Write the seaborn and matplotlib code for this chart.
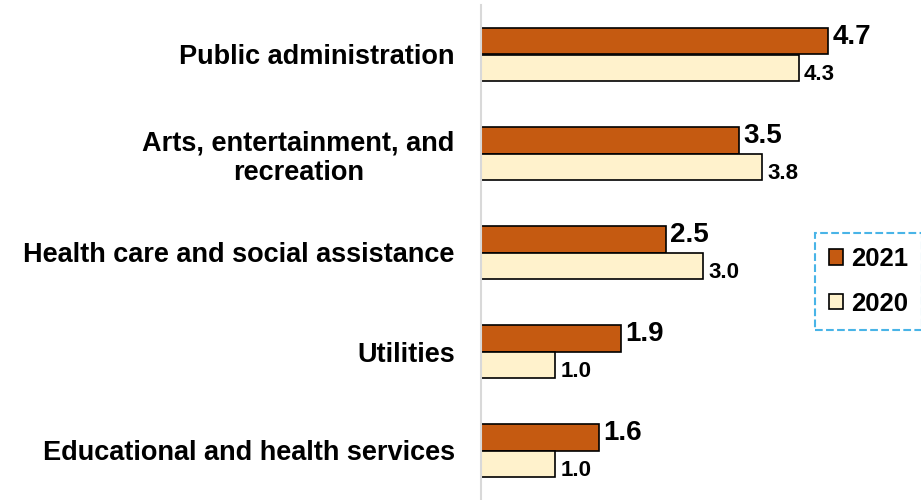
import pandas as pd
import matplotlib.pyplot as plt
import seaborn as sns
from matplotlib.patches import Patch
from matplotlib import font_manager

categories = ["Public administration",
              "Arts, entertainment, and\nrecreation",
              "Health care and social assistance",
              "Utilities",
              "Educational and health services"]
vals_2021 = [4.7, 3.5, 2.5, 1.9, 1.6]
vals_2020 = [4.3, 3.8, 3.0, 1.0, 1.0]
years = ["2021", "2020"]
colors = ["#C55A11", "#FFF2CC"]

df = pd.DataFrame({
    "industry": categories * 2,
    "value": vals_2021 + vals_2020,
    "year": [years[0]] * 5 + [years[1]] * 5,
})

sns.set_style("white")
plt.rcParams["font.family"] = ["Liberation Sans", "DejaVu Sans"]
plt.rcParams["text.color"] = "black"
plt.rcParams["ytick.color"] = "black"

# narrow face for the small 2020 labels, if one is installed
names = {f.name for f in font_manager.fontManager.ttflist}
narrow = next((n for n in ["Liberation Sans Narrow", "DejaVu Sans Condensed"] if n in names),
              "Liberation Sans")

fig = plt.figure(figsize=(9.21, 5), dpi=100)
ax = fig.add_axes([0.5223, 0.0, 0.465, 0.99])
sns.barplot(data=df, x="value", y="industry", hue="year", orient="h",
            palette=colors, saturation=1, width=0.535, edgecolor="black",
            linewidth=1.2, legend=False, ax=ax)

ax.set_xlim(0, 5.8)
ax.set_ylim(4.5, -0.5)
ax.set_xlabel("")
ax.set_ylabel("")
ax.set_xticks([])
ax.tick_params(axis="y", length=0, pad=19)
for lab in ax.get_yticklabels():
    lab.set_fontsize(19.5)
    lab.set_fontweight("bold")
    lab.set_multialignment("center")
    lab.set_linespacing(1.2)
for s in ["top", "right", "bottom"]:
    ax.spines[s].set_visible(False)
ax.spines["left"].set_color("#D9D9D9")
ax.spines["left"].set_linewidth(1.5)

# value labels
big, small = ax.containers[0], ax.containers[1]
for bar, v in zip(big, vals_2021):
    ax.annotate(f"{v:.1f}", (bar.get_width(), bar.get_y() + bar.get_height() / 2),
                xytext=(3, 3), textcoords="offset points", ha="left", va="center",
                fontsize=20, fontweight="bold")
for bar, v in zip(small, vals_2020):
    ax.annotate(f"{v:.1f}", (bar.get_width(), bar.get_y() + bar.get_height()),
                xytext=(4, -3), textcoords="offset points", ha="left", va="bottom",
                fontsize=16, fontweight="bold", family=[narrow, "Liberation Sans"])

handles = [Patch(facecolor=c, edgecolor="black", linewidth=1.2) for c in colors]
leg = fig.legend(handles, years, loc="center left", bbox_to_anchor=(0.885, 0.437),
                 borderaxespad=0, prop={"weight": "bold", "size": 18.5},
                 handlelength=0.55, handleheight=0.55, handletextpad=0.3,
                 labelspacing=0.8, borderpad=0.55, frameon=True, fancybox=False)
frame = leg.get_frame()
frame.set_edgecolor("#1BA1E2")
frame.set_linestyle("--")
frame.set_linewidth(1.5)

fig.savefig("out.png", dpi=100)
